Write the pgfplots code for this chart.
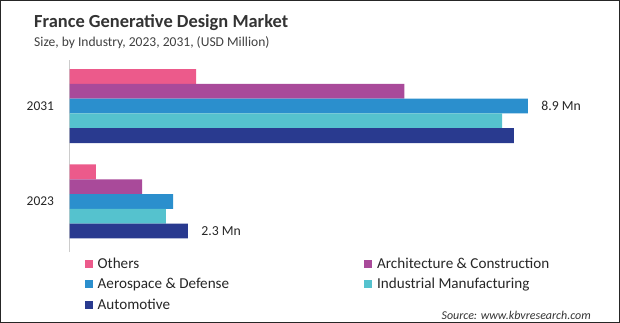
\documentclass[border=0pt]{standalone}
\usepackage{pgfplots}
\pgfplotsset{compat=1.18}
\usepackage{fontspec}
\setmainfont{Carlito}
\definecolor{cOth}{HTML}{EC5A8B}
\definecolor{cArc}{HTML}{A94A9A}
\definecolor{cAer}{HTML}{2B8FCD}
\definecolor{cInd}{HTML}{55C2CE}
\definecolor{cAut}{HTML}{293A8F}
\begin{document}
\begin{tikzpicture}
\useasboundingbox (0,0) rectangle (620bp,-323bp);
\node[anchor=base west, font=\bfseries\fontsize{18.5}{20}\selectfont, text=black!80, inner sep=0] at (34bp,-27bp) {France Generative Design Market};
\node[anchor=base west, font=\fontsize{13.6}{15}\selectfont, text=black!75, inner sep=0] at (34bp,-46bp) {Size, by Industry, 2023, 2031, (USD Million)};
\begin{axis}[
  at={(69.5bp,-252bp)}, anchor=south west,
  scale only axis, width=515bp, height=192bp,
  xmin=0, xmax=10, ymin=-0.529, ymax=1.482,
  axis x line=none, axis y line*=left,
  y axis line style={draw=black!20, line width=0.8bp, -},
  ytick={0,1}, yticklabels={2023,2031}, major tick length=0,
  /pgf/number format/assume math mode=true,
  yticklabel style={font=\fontsize{13.5}{15}\selectfont, text=black!85, xshift=-12bp},
  xbar, bar width=14.8bp,
  every axis plot/.append style={draw=none},
  legend columns=2,
  legend style={at={(0,0)}, anchor=north west, xshift=15bp, yshift=-4bp, draw=none, fill=none, inner sep=0pt, text=black!85, font=\fontsize{15.2}{16}\selectfont, row sep=4.2bp, /tikz/every even column/.append style={column sep=133bp}, /tikz/every odd column/.append style={column sep=3bp}},
  legend cell align=left,
  legend image code/.code={\fill[#1] (0bp,-4bp) rectangle (8bp,4bp);},
  clip=false,
]
\addplot[fill=cOth, bar shift=29.6bp] coordinates {(0.51,0) (2.46,1)};
\addlegendentry{Others}
\addplot[fill=cArc, bar shift=14.8bp] coordinates {(1.41,0) (6.50,1)};
\addlegendentry{Architecture \& Construction}
\addplot[fill=cAer, bar shift=0bp] coordinates {(2.01,0) (8.9,1)};
\addlegendentry{Aerospace \& Defense}
\addplot[fill=cInd, bar shift=-14.8bp] coordinates {(1.87,0) (8.40,1)};
\addlegendentry{Industrial Manufacturing}
\addplot[fill=cAut, bar shift=-29.6bp] coordinates {(2.3,0) (8.63,1)};
\addlegendentry{Automotive}
\node[anchor=west, font=\fontsize{13.8}{15}\selectfont, text=black!85, xshift=10bp] at (axis cs:8.9,1) {8.9 Mn};
\node[anchor=west, font=\fontsize{13.8}{15}\selectfont, text=black!85, xshift=10bp, yshift=-29.6bp] at (axis cs:2.3,0) {2.3 Mn};
\end{axis}
\node[anchor=base east, font=\itshape\fontsize{12}{14}\selectfont, text=black!80, inner sep=0] at (591bp,-319bp) {Source: www.kbvresearch.com};
\draw[line width=1.2bp, black!85] (0.6bp,-0.6bp) rectangle (619.4bp,-322.4bp);
\end{tikzpicture}
\end{document}
